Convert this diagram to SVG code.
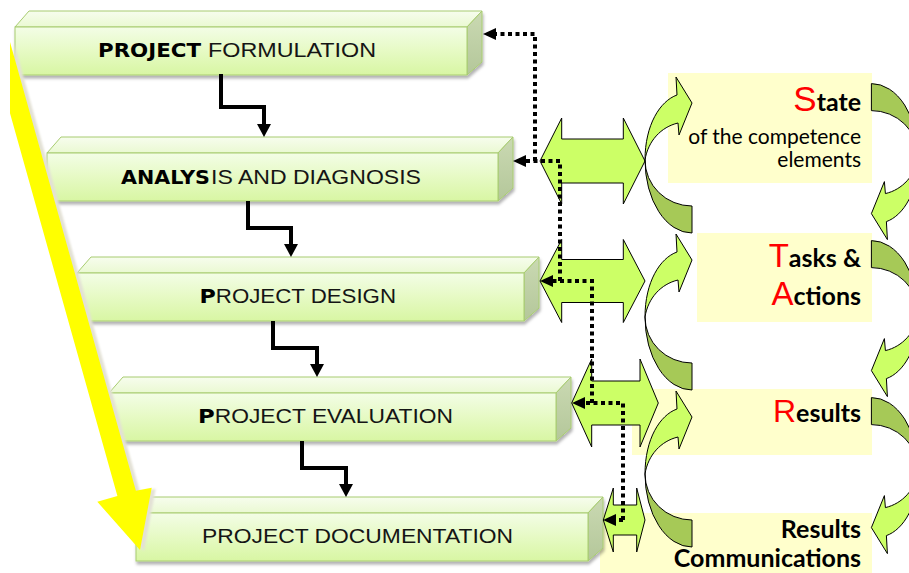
<svg xmlns="http://www.w3.org/2000/svg" xmlns:xlink="http://www.w3.org/1999/xlink" width="909" height="573" viewBox="0 0 909 573">
<defs>
  <linearGradient id="gFront" x1="0" y1="0" x2="0" y2="1">
    <stop offset="0" stop-color="#f3fde6"/>
    <stop offset="0.5" stop-color="#e6fac4"/>
    <stop offset="1" stop-color="#d8f6a3"/>
  </linearGradient>
  <linearGradient id="gTop" x1="0" y1="0" x2="0" y2="1">
    <stop offset="0" stop-color="#f7fdee"/>
    <stop offset="1" stop-color="#eaf9d2"/>
  </linearGradient>
  <linearGradient id="gSide" x1="0" y1="0" x2="0" y2="1">
    <stop offset="0" stop-color="#cad9b2"/>
    <stop offset="1" stop-color="#b4c79a"/>
  </linearGradient>
  <filter id="sh" x="-5%" y="-20%" width="110%" height="160%">
    <feDropShadow dx="1" dy="3" stdDeviation="1.5" flood-color="#000" flood-opacity="0.3"/>
  </filter>
  <filter id="blur1" x="-20%" y="-5%" width="140%" height="110%">
    <feGaussianBlur stdDeviation="1"/>
  </filter>
  <marker id="aSolid" markerUnits="userSpaceOnUse" markerWidth="14" markerHeight="14" refX="0" refY="7" orient="auto" overflow="visible">
    <path d="M0,0 L13,7 L0,14 z" fill="#000"/>
  </marker>
  <marker id="aDot" markerUnits="userSpaceOnUse" markerWidth="14" markerHeight="12" refX="0" refY="6" orient="auto" overflow="visible">
    <path d="M0,0 L13,6 L0,12 z" fill="#000"/>
  </marker>
  <g id="carrow">
    <path class="cdark" d="M645,160 A47,73 0 0 0 692,233 L692,206 A47,46 0 0 1 645,160 Z"/>
    <path class="clight" d="M645,160 C645,125 660,101 677,95 L676,77 L692,103 L679,135 L678,123 C661,127 648,141 645,160 Z"/>
  </g>
</defs>
<style>
  .face{stroke:#a8cc70;stroke-width:1}
  .lbl{font-family:"Liberation Sans",Arial,sans-serif;font-size:19.5px;fill:#151515}
  .bk{font-family:"DejaVu Sans","Liberation Sans",sans-serif;font-weight:bold;fill:#000}
  .conn{fill:none;stroke:#000;stroke-width:4;marker-end:url(#aSolid)}
  .dot{fill:none;stroke:#000;stroke-width:4;stroke-dasharray:4 3.5;marker-end:url(#aDot)}
  .ybox{fill:#ffffcc}
  .dbl{fill:#ccff66;stroke:#000;stroke-width:1}
  .clight{fill:#ccff66;stroke:#000;stroke-width:1}
  .cdark{fill:#a6c957;stroke:#000;stroke-width:1}
  .rl{font-family:Lato,"Liberation Sans",sans-serif;fill:#000;text-anchor:end}
  .rb{font-weight:bold;font-size:25px}
  .rn{font-size:21px}
  .red{font-family:"Liberation Sans",Arial,sans-serif;fill:#ff0000;font-weight:normal}
</style>

<g id="stateBox">
  <rect class="ybox" x="668" y="73" width="204" height="110"/>
  <text class="rl" x="861" y="110.7"><tspan class="red" font-size="35">S</tspan><tspan class="rb">tate</tspan></text>
  <text class="rl rn" x="861" y="144">of the competence</text>
  <text class="rl rn" x="861" y="166.7">elements</text>
</g>
<g id="tasksBox">
  <rect class="ybox" x="697" y="233" width="175" height="89"/>
  <text class="rl" x="861" y="266.7"><tspan class="red" font-size="33">T</tspan><tspan class="rb">asks &amp;</tspan></text>
  <text class="rl" x="861" y="305"><tspan class="red" font-size="33">A</tspan><tspan class="rb">ctions</tspan></text>
</g>
<g id="resultsBox">
  <rect class="ybox" x="632" y="389" width="240" height="66"/>
  <text class="rl" x="861" y="421.7"><tspan class="red" font-size="32">R</tspan><tspan class="rb">esults</tspan></text>
</g>
<g id="commBox">
  <rect class="ybox" x="600" y="513" width="272" height="60"/>
  <text class="rl rb" x="861" y="538.3">Results</text>
  <text class="rl rb" x="861" y="566.7">Communications</text>
</g>

<g id="box1">
  <g filter="url(#sh)">
    <polygon class="face" fill="url(#gTop)" points="15,27 29,11 482,11 467,27"/>
    <polygon class="face" fill="url(#gSide)" points="467,27 482,11 482,62 467,75"/>
    <rect class="face" fill="url(#gFront)" x="15" y="27" width="452" height="48"/>
  </g>
  <text class="lbl" y="56.7"><tspan class="bk" x="98" textLength="103" lengthAdjust="spacingAndGlyphs">PROJECT</tspan> <tspan x="208" textLength="168" lengthAdjust="spacingAndGlyphs">FORMULATION</tspan></text>
</g>
<g id="box2">
  <g filter="url(#sh)">
    <polygon class="face" fill="url(#gTop)" points="47,153 61,137 513,137 498,153"/>
    <polygon class="face" fill="url(#gSide)" points="498,153 513,137 513,188 498,201"/>
    <rect class="face" fill="url(#gFront)" x="47" y="153" width="451" height="48"/>
  </g>
  <text class="lbl" y="184.3"><tspan class="bk" x="121" textLength="89" lengthAdjust="spacingAndGlyphs">ANALYS</tspan><tspan x="211" textLength="210" lengthAdjust="spacingAndGlyphs">IS AND DIAGNOSIS</tspan></text>
</g>
<g id="box3">
  <g filter="url(#sh)">
    <polygon class="face" fill="url(#gTop)" points="77,273 91,257 539,257 524,273"/>
    <polygon class="face" fill="url(#gSide)" points="524,273 539,257 539,308 524,321"/>
    <rect class="face" fill="url(#gFront)" x="77" y="273" width="447" height="48"/>
  </g>
  <text class="lbl" x="199.5" y="303.3" textLength="196.5" lengthAdjust="spacingAndGlyphs"><tspan class="bk">P</tspan>ROJECT DESIGN</text>
</g>
<g id="box4">
  <g filter="url(#sh)">
    <polygon class="face" fill="url(#gTop)" points="109,393 123,377 571,377 556,393"/>
    <polygon class="face" fill="url(#gSide)" points="556,393 571,377 571,428 556,441"/>
    <rect class="face" fill="url(#gFront)" x="109" y="393" width="447" height="48"/>
  </g>
  <text class="lbl" x="198" y="423.3" textLength="255" lengthAdjust="spacingAndGlyphs"><tspan class="bk">P</tspan>ROJECT EVALUATION</text>
</g>
<g id="box5">
  <g filter="url(#sh)">
    <polygon class="face" fill="url(#gTop)" points="136,513 151,497 603,497 588,513"/>
    <polygon class="face" fill="url(#gSide)" points="588,513 603,497 603,548 588,561"/>
    <rect class="face" fill="url(#gFront)" x="136" y="513" width="452" height="48"/>
  </g>
  <text class="lbl" x="202" y="543" textLength="311" lengthAdjust="spacingAndGlyphs">PROJECT DOCUMENTATION</text>
</g>

<g id="yellowArrow">
  <polygon points="10,42 135.9,490.8 151.7,487.7 140,550 97.3,501.7 117.4,496 10,113.3" fill="#e3e1d5" transform="translate(4,1)" filter="url(#blur1)"/>
  <polygon points="10,42 135.9,490.8 151.7,487.7 140,550 97.3,501.7 117.4,496 10,113.3" fill="#ffff00"/>
</g>

<g id="doubleArrows">
  <polygon class="dbl" points="540,161 561.7,118 561.7,139 623.3,139 623.3,118 645,161 623.3,204 623.3,183 561.7,183 561.7,204"/>
  <polygon class="dbl" points="540,281 561.7,239.5 561.7,259.5 623.3,259.5 623.3,239.5 645,281 623.3,322.5 623.3,302.5 561.7,302.5 561.7,322.5"/>
  <polygon class="dbl" points="571.7,403 591.7,359 591.7,381 640,381 640,359 658.3,403 640,447 640,425 591.7,425 591.7,447"/>
  <polygon class="dbl" points="603.3,520 613.3,488 613.3,505 636.7,505 636.7,488 645,520 636.7,552 636.7,535 613.3,535 613.3,552"/>
</g>

<g id="curvedArrows">
  <use xlink:href="#carrow" href="#carrow"/>
  <use xlink:href="#carrow" href="#carrow" transform="translate(0,157)"/>
  <use xlink:href="#carrow" href="#carrow" transform="translate(0,314)"/>
  <use xlink:href="#carrow" href="#carrow" transform="rotate(180 781.7 158.3)"/>
  <use xlink:href="#carrow" href="#carrow" transform="translate(0,157) rotate(180 781.7 158.3)"/>
  <use xlink:href="#carrow" href="#carrow" transform="translate(0,314) rotate(180 781.7 158.3)"/>
</g>

<g id="connectors">
  <path class="conn" d="M221,74 V107 H264 V124"/>
  <path class="conn" d="M248,201 V228 H291 V244"/>
  <path class="conn" d="M273,321 V348 H317 V364"/>
  <path class="conn" d="M302,441 V468 H346 V484"/>
  <path class="dot" d="M535,161 V34 H496"/>
  <path class="dot" d="M560,281 V161 H526"/>
  <path class="dot" d="M592,403 V281 H553"/>
  <path class="dot" d="M623,520 V403 H585"/>
  <path class="dot" d="M623,520 H616"/>
</g>
</svg>
